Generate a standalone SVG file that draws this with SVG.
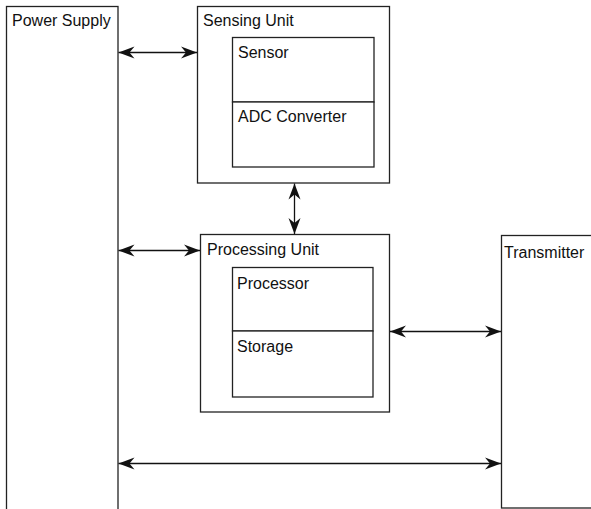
<svg xmlns="http://www.w3.org/2000/svg" width="591" height="509" viewBox="0 0 591 509">
<style>
.box{fill:#fff;stroke:#222;stroke-width:1.3}
.lbl{font-family:"Liberation Sans",Arial,sans-serif;font-size:16px;fill:#111}
.conn{stroke:#111;stroke-width:1.3;fill:none;marker-start:url(#ah);marker-end:url(#ah)}
</style>
<defs>
<marker id="ah" markerUnits="userSpaceOnUse" markerWidth="18" markerHeight="14" viewBox="-17 -7 18 14" refX="0" refY="0" orient="auto-start-reverse">
<path d="M0,0 L-16,-6 L-11,0 L-16,6 Z" fill="#111"/>
</marker>
</defs>
<rect width="591" height="509" fill="#fff"/>
<g id="power-supply">
<rect class="box" x="6.5" y="6.5" width="111.5" height="510"/>
<text class="lbl" x="12" y="26">Power Supply</text>
</g>
<g id="sensing-unit">
<rect class="box" x="197.5" y="6.5" width="192" height="176.5"/>
<text class="lbl" x="203" y="26">Sensing Unit</text>
<g id="sensor">
<rect class="box" x="232.5" y="37.5" width="141.5" height="64.5"/>
<text class="lbl" x="238" y="58">Sensor</text>
</g>
<g id="adc-converter">
<rect class="box" x="232.5" y="102" width="141.5" height="65"/>
<text class="lbl" x="238" y="122">ADC Converter</text>
</g>
</g>
<g id="processing-unit">
<rect class="box" x="200.5" y="234.5" width="189" height="177.5"/>
<text class="lbl" x="207" y="255">Processing Unit</text>
<g id="processor">
<rect class="box" x="232.5" y="267.5" width="140.5" height="63.5"/>
<text class="lbl" x="237" y="289">Processor</text>
</g>
<g id="storage">
<rect class="box" x="232.5" y="331" width="140.5" height="66"/>
<text class="lbl" x="237" y="352">Storage</text>
</g>
</g>
<g id="transmitter">
<rect class="box" x="501.5" y="235.5" width="100" height="272.5"/>
<text class="lbl" x="504" y="258">Transmitter</text>
</g>
<g id="connectors">
<line class="conn" x1="118.5" y1="52.5" x2="197" y2="52.5"/>
<line class="conn" x1="294.5" y1="183.5" x2="294.5" y2="234"/>
<line class="conn" x1="118.5" y1="250.5" x2="200" y2="250.5"/>
<line class="conn" x1="390" y1="331.5" x2="501" y2="331.5"/>
<line class="conn" x1="118.5" y1="463.5" x2="501" y2="463.5"/>
</g>
</svg>
